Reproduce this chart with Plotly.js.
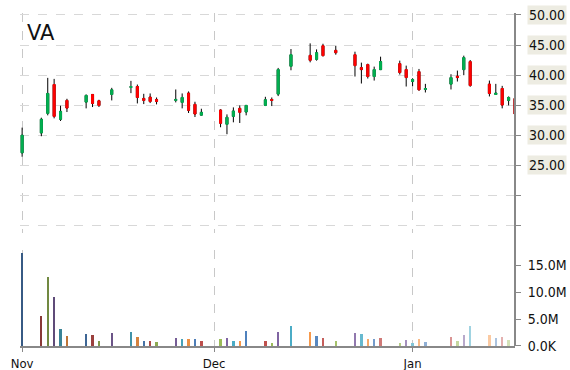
<!DOCTYPE html>
<html><head><meta charset="utf-8">
<script src="https://cdn.plot.ly/plotly-3.0.1.min.js"></script>
<style>html,body{margin:0;padding:0;background:#fff}#chart{width:570px;height:370px}</style>
</head><body><div id="chart"></div>
<script>
const dates = ['2013-11-01','2013-11-04','2013-11-05','2013-11-06','2013-11-07','2013-11-08','2013-11-11','2013-11-12','2013-11-13','2013-11-15',
'2013-11-18','2013-11-19','2013-11-20','2013-11-21','2013-11-22','2013-11-25','2013-11-26','2013-11-27','2013-11-28','2013-11-29',
'2013-12-02','2013-12-03','2013-12-04','2013-12-05','2013-12-06','2013-12-09','2013-12-10','2013-12-11','2013-12-13','2013-12-16',
'2013-12-17','2013-12-18','2013-12-20','2013-12-23','2013-12-24','2013-12-25','2013-12-26','2013-12-27','2013-12-30','2013-12-31',
'2014-01-01','2014-01-02','2014-01-03','2014-01-07','2014-01-08','2014-01-09','2014-01-10','2014-01-13','2014-01-14','2014-01-15','2014-01-16','2014-01-17'];
const openP = [27.09,30.40,33.65,38.44,32.66,35.80,35.52,36.79,35.74,36.79,
37.95,38.11,36.13,36.35,35.96,35.80,35.47,37.01,35.14,33.35,
34.20,31.83,33.15,34.48,33.87,34.97,35.96,36.85,41.47,43.29,
42.63,44.89,44.12,43.40,41.25,41.75,39.77,40.92,41.91,40.92,
38.94,40.59,37.62,38.50,39.82,40.92,42.25,38.50,36.79,37.78,35.80,36.13];
const highP = [31.28,32.93,39.55,39.38,34.92,36.07,36.79,36.85,35.91,37.89,
39.05,38.44,36.90,36.96,36.29,37.62,36.96,37.29,35.58,34.42,
34.31,33.48,34.64,34.97,35.00,36.40,36.29,41.20,44.34,45.28,
44.28,45.22,44.89,43.90,42.08,41.91,41.42,43.07,42.41,41.58,
39.49,41.03,38.55,40.15,40.76,43.24,42.52,39.10,38.55,38.22,36.46,36.18];
const lowP = [26.43,29.85,33.32,32.82,32.38,33.87,34.48,34.70,34.70,35.80,
37.01,35.30,35.19,35.36,35.14,35.47,34.48,33.71,33.04,33.30,
31.34,30.18,32.16,32.05,33.32,34.86,34.86,36.52,40.81,42.13,
42.41,43.13,43.40,39.77,38.61,39.44,39.10,40.85,40.10,38.11,
38.17,37.45,37.12,37.62,38.94,39.99,38.06,36.46,36.74,34.48,34.97,32.99];
const closeP = [30.01,32.66,36.96,33.15,33.98,34.53,36.63,35.30,34.97,37.56,
38.11,36.29,35.80,35.63,35.63,35.96,36.29,34.15,33.54,33.82,
32.00,32.99,34.04,33.82,34.97,35.91,35.80,40.92,43.40,42.47,
43.73,43.24,43.73,41.58,40.92,39.77,40.92,42.25,40.43,39.60,
39.27,37.56,37.78,39.60,39.60,42.91,38.28,36.96,37.01,35.03,36.29,33.54];
const volumeM = [17.23,5.58,12.83,9.11,3.16,1.86,2.23,2.05,0.87,2.42,
2.60,1.67,0.93,0.93,0.74,1.49,1.30,1.30,1.30,0.93,
1.30,1.49,0.93,0.93,2.79,0.93,0.56,2.60,3.72,2.60,
1.86,1.49,0.93,2.42,2.23,1.30,1.30,1.49,0.56,1.12,
0.56,1.30,0.74,1.67,0.93,2.05,3.72,2.05,1.49,1.67,1.12,2.05];
const priceLabelVals = [25,30,35,40,45,50];
const priceTickVals = [15,20,25,30,35,40,45,50];
const volTickVals = [0,5,10,15];
const volTickText = ['0.0K','5.0M','10.0M','15.0M'];
const monthTicks = ['2013-11-01','2013-12-01','2014-01-01'];
const monthLabels = ['Nov','Dec','Jan'];

const palette = ['#4F81BD','#C0504D','#9BBB59','#8064A2','#4BACC6','#F79646'];
function hex2rgb(h){return [1,3,5].map(k=>parseInt(h.substr(k,2),16));}
function shade(h,i){
  let c = hex2rgb(h);
  if (i < 20) { const f = 0.3*(20-i)/20; c = c.map(v=>v*(1-f)); }
  else if (i >= 28) { const f = 0.6*(i-28)/23; c = c.map(v=>v+(255-v)*f); }
  return 'rgb('+c.map(v=>Math.round(v)).join(',')+')';
}
const volColors = volumeM.map((v,i)=>shade(palette[i%6], i));
const bodyHigh = openP.map((o,i)=>Math.max(o,closeP[i]));
const bodyLow = openP.map((o,i)=>Math.min(o,closeP[i]));

const GREEN='#00B050', RED='#FF0000';
const FONT = 'DejaVu Sans Condensed, DejaVu Sans, sans-serif';

const traces = [
 {type:'candlestick', x:dates, open:openP, high:highP, low:lowP, close:closeP, xaxis:'x', yaxis:'y',
  increasing:{line:{color:'#000',width:1},fillcolor:'rgba(0,0,0,0)'},
  decreasing:{line:{color:'#000',width:1},fillcolor:'rgba(0,0,0,0)'},
  whiskerwidth:0, showlegend:false, hoverinfo:'skip'},
 {type:'candlestick', x:dates, open:openP, high:bodyHigh, low:bodyLow, close:closeP, xaxis:'x', yaxis:'y',
  increasing:{line:{color:GREEN,width:1},fillcolor:GREEN},
  decreasing:{line:{color:RED,width:1},fillcolor:RED},
  whiskerwidth:0, showlegend:false},
 {type:'bar', x:dates, y:volumeM, xaxis:'x', yaxis:'y2', marker:{color:volColors,line:{width:0}},
  width:0.36*86400000, showlegend:false}
];

const annotations = priceLabelVals.map(v=>({
  xref:'paper', x:1, xanchor:'left', xshift:12, yref:'y', y:v, yanchor:'middle',
  text:v.toFixed(2), showarrow:false, bgcolor:'#EDECE2', borderpad:1,
  font:{family:FONT, size:14, color:'#111'}
}));

const layout = {
  width:570, height:370,
  margin:{l:20, r:55, t:13, b:24},
  paper_bgcolor:'#fff', plot_bgcolor:'#fff',
  font:{family:FONT, size:13, color:'#111'},
  title:{text:'VA', font:{family:'DejaVu Sans, sans-serif', size:21, color:'#111'},
         xref:'container', x:27/570, xanchor:'left', yref:'container', y:1-33/370, yanchor:'middle'},
  showlegend:false,
  bargap:0,
  boxgap:0.55,
  xaxis:{type:'date', range:['2013-10-31 16:00','2014-01-17 00:00'], anchor:'y2',
         rangeslider:{visible:false},
         tickvals:monthTicks, ticktext:monthLabels, ticks:'outside', ticklen:4, tickcolor:'#888',
         showgrid:true, gridcolor:'#C8C8C8', griddash:'dash', gridwidth:1,
         showline:true, linecolor:'#888', linewidth:2, zeroline:false,
         tickfont:{family:FONT, size:13, color:'#111'}},
  yaxis:{domain:[0.34,1], range:[13.8,50.33], side:'right', anchor:'x',
         tickvals:priceTickVals, showticklabels:false, ticks:'outside', ticklen:5, tickcolor:'#888',
         showgrid:true, gridcolor:'#D8D8D8', griddash:'dash', gridwidth:1,
         showline:false, zeroline:false},
  yaxis2:{domain:[0,0.288], range:[0,17.85], side:'right', anchor:'x',
         tickvals:volTickVals, ticktext:volTickText, ticks:'outside', ticklen:5, tickcolor:'#888',
         ticklabelstandoff:4,
         showgrid:false, showline:false, zeroline:false,
         tickfont:{family:FONT, size:14, color:'#111'}},
  shapes:[{type:'line', xref:'paper', yref:'paper', x0:1, x1:1, y0:0, y1:1, line:{color:'#888', width:2}}],
  annotations:annotations
};
Plotly.newPlot('chart', traces, layout, {displayModeBar:false, staticPlot:true});
</script></body></html>
